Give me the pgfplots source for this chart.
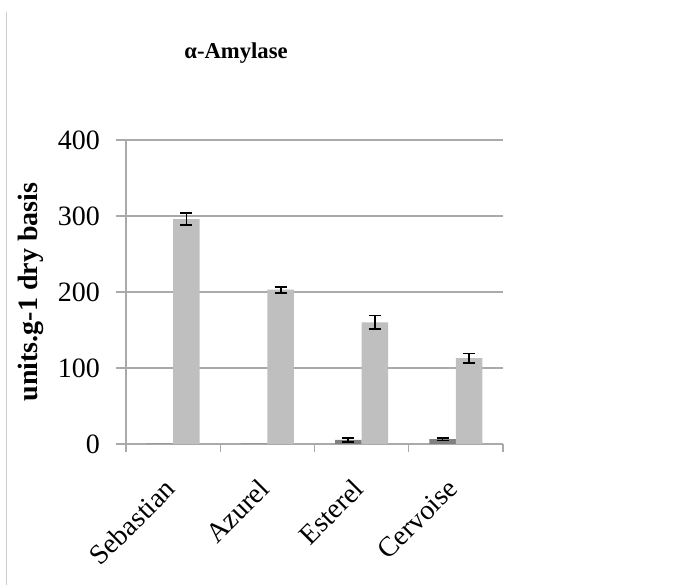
\documentclass[border=0pt]{standalone}
\usepackage{pgfplots}
\pgfplotsset{compat=1.18}
\usepackage{pgfplotstable}
\usepackage{fontspec}
\setmainfont{Liberation Serif}
\definecolor{gridc}{RGB}{170,170,170}
\definecolor{darkbar}{RGB}{128,128,128}
\definecolor{lightbar}{RGB}{191,191,191}
\pgfplotstableread{
x y e
0 0.6 0
1 0.6 0
2 5.3 3
3 6.5 1.8
}\darkt
\pgfplotstableread{
x y e
2 5.3 3
3 6.5 1.8
}\darke
\pgfplotstableread{
x y e
0 296 8
1 203 4
2 160 9
3 113 6
}\lightt
\begin{document}
\begin{tikzpicture}
\useasboundingbox (0pt,0pt) rectangle (511.5pt,438.75pt);
\draw[color=gridc!60, line width=0.75pt] (4.5pt,0pt) -- (4.5pt,429.75pt);
\node[anchor=base, font=\fontsize{17}{20}\selectfont\bfseries] at (177pt,394.5pt) {α-Amylase};
\begin{axis}[
  at={(94.5pt,105.75pt)}, anchor=south west,
  scale only axis, width=282.75pt, height=228pt,
  xmin=-0.5, xmax=3.5, ymin=0, ymax=400,
  ytick={0,100,200,300,400},
  xtick={0,1,2,3},
  xticklabels={Sebastian,Azurel,Esterel,Cervoise},
  minor xtick={-0.5,0.5,1.5,2.5,3.5},
  major x tick style={draw=none},
  minor tick length=6pt,
  major tick length=7.5pt,
  tick align=outside,
  tick style={gridc, line width=1pt},
  axis x line*=bottom, axis y line*=left,
  axis line style={gridc, line width=1pt, -},
  ymajorgrids,
  grid style={gridc, line width=1pt},
  /pgf/number format/assume math mode=true,
  ticklabel style={font=\fontsize{21}{25}\selectfont},
  yticklabel style={xshift=-8.5pt},
  xticklabel style={xshift=-7.5pt, yshift=-12.5pt, rotate=45, anchor=north east},
  ylabel={units.g-1 dry basis},
  ylabel style={at={(axis description cs:-0.252,0.5)}, anchor=center, font=\fontsize{21}{25}\selectfont\bfseries},
  ybar, bar width=19.9pt,
  error bars/error bar style={black, line width=1.3pt},
  error bars/error mark options={rotate=90, mark size=4.5pt, line width=1.3pt, black},
]
\addplot[fill=darkbar, draw=none, bar shift=-9.95pt] table[x=x,y=y] {\darkt};
\addplot[fill=none, draw=none, bar shift=-9.95pt, error bars/.cd, y dir=both, y explicit] table[x=x,y=y,y error=e] {\darke};
\addplot[fill=lightbar, draw=none, bar shift=9.95pt, error bars/.cd, y dir=both, y explicit] table[x=x,y=y,y error=e] {\lightt};
\end{axis}
\end{tikzpicture}
\end{document}
